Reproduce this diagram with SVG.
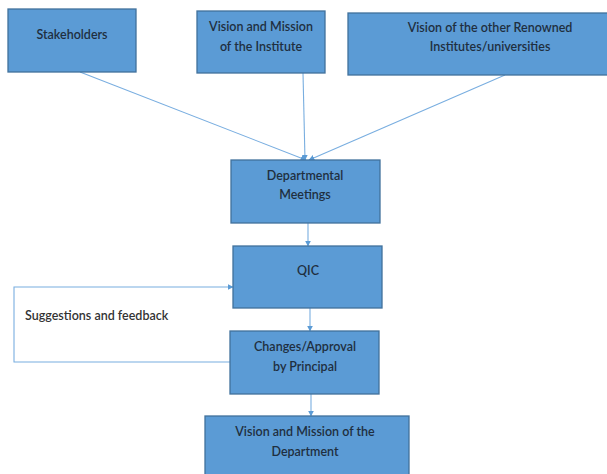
<svg xmlns="http://www.w3.org/2000/svg" width="607" height="474" viewBox="0 0 607 474">
<defs>
<marker id="ah" viewBox="0 0 10 10" refX="9" refY="5" markerWidth="6" markerHeight="6" orient="auto" markerUnits="userSpaceOnUse">
<path d="M0,0 L10,5 L0,10 z" fill="#5b9bd5"/>
</marker>
<style>
.box{fill:#5b9bd5;stroke:#41719c;stroke-width:1.3}
.t{font-family:Lato,"Liberation Sans",sans-serif;font-size:12.5px;font-weight:600;fill:#1f2f3f;text-anchor:middle}
.c{fill:none;stroke:#79aee0;stroke-width:1.1;marker-end:url(#ah)}
</style>
</defs>
<rect width="607" height="474" fill="#ffffff"/>
<g id="connectors">
<line class="c" x1="80" y1="72" x2="306" y2="160"/>
<line class="c" x1="303" y1="73" x2="305" y2="160"/>
<line class="c" x1="505" y1="75" x2="309" y2="160"/>
<line class="c" x1="308" y1="223" x2="308" y2="246"/>
<line class="c" x1="310" y1="308" x2="310" y2="331"/>
<line class="c" x1="311" y1="394" x2="311" y2="416"/>
<polyline class="c" points="230,362 14,362 14,287 233,287"/>
</g>
<g id="stakeholders"><rect class="box" x="8" y="9" width="128" height="63"/><text class="t" x="72" y="39">Stakeholders</text></g>
<g id="vision-institute"><rect class="box" x="197" y="11" width="128" height="62"/><text class="t" x="261" y="31">Vision and Mission</text><text class="t" x="261" y="51">of the Institute</text></g>
<g id="vision-renowned"><rect class="box" x="348" y="13" width="262" height="62"/><text class="t" x="490" y="32">Vision of the other Renowned</text><text class="t" x="490" y="51">Institutes/universities</text></g>
<g id="dept-meetings"><rect class="box" x="231" y="160" width="149" height="63"/><text class="t" x="305" y="180">Departmental</text><text class="t" x="305" y="199">Meetings</text></g>
<g id="qic"><rect class="box" x="233" y="246" width="149" height="62"/><text class="t" x="308" y="275">QIC</text></g>
<text x="25" y="320" font-family="Lato,'Liberation Sans',sans-serif" font-size="12.5" font-weight="600" fill="#333">Suggestions and feedback</text>
<g id="changes"><rect class="box" x="230" y="331" width="149" height="63"/><text class="t" x="305" y="351">Changes/Approval</text><text class="t" x="305" y="371">by Principal</text></g>
<g id="vision-dept"><rect class="box" x="205" y="416" width="204" height="62"/><text class="t" x="305" y="436">Vision and Mission of the</text><text class="t" x="305" y="456">Department</text></g>
</svg>
